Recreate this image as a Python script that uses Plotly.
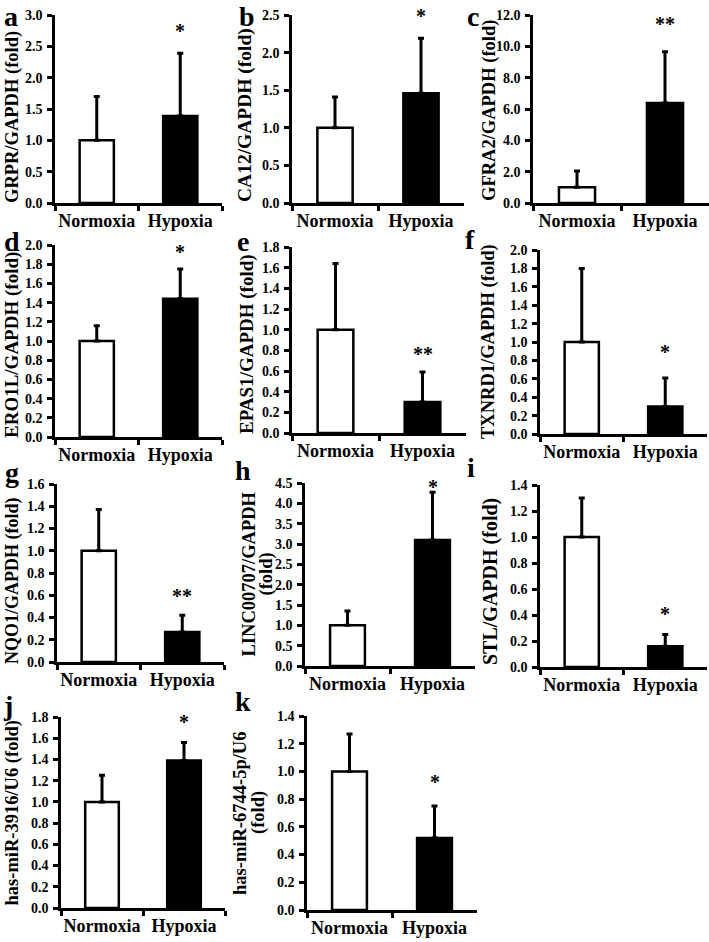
import plotly.graph_objects as go

W, H = 709, 942
FONT = "Liberation Serif"

panels = ["a", "b", "c", "d", "e", "f", "g", "h", "i", "j", "k"]
categories = ["Normoxia", "Hypoxia"]
ylabels = [
    ["GRPR/GAPDH (fold)"],
    ["CA12/GAPDH (fold)"],
    ["GFRA2/GAPDH (fold)"],
    ["ERO1L/GAPDH (fold)"],
    ["EPAS1/GAPDH (fold)"],
    ["TXNRD1/GAPDH (fold)"],
    ["NQO1/GAPDH (fold)"],
    ["LINC00707/GAPDH", "(fold)"],
    ["STL/GAPDH (fold)"],
    ["has-miR-3916/U6 (fold)"],
    ["has-miR-6744-5p/U6", "(fold)"],
]
normoxia_mean = [1.0, 1.0, 1.0, 1.0, 1.0, 1.0, 1.0, 1.0, 1.0, 1.0, 1.0]
hypoxia_mean = [1.39, 1.46, 6.38, 1.44, 0.30, 0.30, 0.27, 3.10, 0.16, 1.39, 0.52]
normoxia_err = [0.70, 0.41, 1.05, 0.16, 0.64, 0.80, 0.37, 0.35, 0.30, 0.25, 0.27]
hypoxia_err = [1.00, 0.73, 3.27, 0.31, 0.29, 0.31, 0.15, 1.17, 0.09, 0.17, 0.23]
significance = ["*", "*", "**", "*", "**", "*", "**", "*", "*", "*", "*"]
sig_y = [2.81, 2.54, 11.7, 1.97, 0.80, 0.93, 0.63, 4.5, 0.44, 1.79, 0.95]
y_max = [3.0, 2.5, 12.0, 2.0, 1.8, 2.0, 1.6, 4.5, 1.4, 1.8, 1.4]
y_dtick = [0.5, 0.5, 2.0, 0.2, 0.2, 0.2, 0.2, 0.5, 0.2, 0.2, 0.2]

# pixel boxes of each plot area: x0, x1, ytop, ybottom
boxes = [
    (55, 222, 15, 203), (292, 464, 15, 203), (533, 709, 15, 203),
    (55, 222, 245, 437), (292, 466, 247, 433), (540, 707, 250, 434),
    (57, 224, 484, 662), (305, 475, 483, 666), (540, 707, 485, 667),
    (61, 225, 717, 908), (307, 477, 716, 910),
]
# panel letter positions (pixel centers)
letter_pos = [(11, 17), (247, 17), (473, 17), (12, 241), (243, 241), (470, 240),
              (12, 472), (243, 470), (471, 467), (8, 705), (243, 701)]
# y title centre x (pixel) for each line, font size and vertical nudge
title_x = [[13], [245], [490], [12], [247], [489], [12], [248, 266], [490], [12], [240, 258]]
title_size = [18.5, 19.5, 18.5, 19, 19, 18.5, 18, 18.5, 20, 18.5, 18.5]
title_dy = [8, 6, 2, 4, 4, 0, 8, 0, 6, 0, 0]

fig = go.Figure()
annotations = []
for i, p in enumerate(panels):
    n = i + 1
    xa = "x" if n == 1 else f"x{n}"
    ya = "y" if n == 1 else f"y{n}"
    x0, x1, yt, yb = boxes[i]
    d0, d1 = 1 - yb / H, 1 - yt / H
    fig.add_trace(go.Bar(
        x=categories,
        y=[normoxia_mean[i], hypoxia_mean[i]],
        xaxis=xa, yaxis=ya,
        width=0.41,
        marker=dict(color=["white", "black"], line=dict(color="black", width=2.5)),
        error_y=dict(type="data", array=[normoxia_err[i], hypoxia_err[i]],
                     arrayminus=[0, 0], symmetric=False,
                     color="black", thickness=3, width=3),
        showlegend=False,
    ))
    xkey = "xaxis" if n == 1 else f"xaxis{n}"
    ykey = "yaxis" if n == 1 else f"yaxis{n}"
    fig.update_layout(**{
        xkey: dict(
            domain=[x0 / W, x1 / W], anchor=ya, type="category",
            range=[-0.5, 1.5], tickson="boundaries", ticks="outside",
            ticklen=5, tickwidth=2.5, tickcolor="black", tickangle=0,
            showline=True, linecolor="black", linewidth=2.5,
            showgrid=False, zeroline=False, fixedrange=True, automargin=False,
            tickfont=dict(family=FONT, size=18, color="black", weight="bold"),
            ticklabelstandoff=0,
        ),
        ykey: dict(
            domain=[d0, d1], anchor=xa,
            range=[0, y_max[i]], dtick=y_dtick[i], tick0=0, tickformat=".1f",
            ticks="outside", ticklen=5, tickwidth=2.5, tickcolor="black",
            showline=True, linecolor="black", linewidth=2.5,
            showgrid=False, zeroline=False, fixedrange=True, automargin=False,
            tickfont=dict(family=FONT, size=14, color="black", weight="bold"),
            ticklabelstandoff=2,
        ),
    })
    # significance stars (paper y computed from the data value)
    annotations.append(dict(
        x="Hypoxia", y=d0 + (d1 - d0) * sig_y[i] / y_max[i], xref=xa, yref="paper",
        text=significance[i],
        showarrow=False, xanchor="center", yanchor="middle", yshift=-4,
        font=dict(family=FONT, size=20, color="black", weight="bold"),
    ))
    # panel letter
    lx, ly = letter_pos[i]
    annotations.append(dict(
        x=lx / W, y=1 - ly / H, xref="paper", yref="paper", text=p,
        showarrow=False, xanchor="center", yanchor="middle",
        font=dict(family=FONT, size=28, color="black", weight="bold"),
    ))
    # y titles
    yc = 1 - ((yt + yb) / 2 + title_dy[i]) / H
    for line, tx in zip(ylabels[i], title_x[i]):
        annotations.append(dict(
            x=tx / W, y=yc, xref="paper", yref="paper", text=line,
            textangle=-90, showarrow=False, xanchor="center", yanchor="middle",
            font=dict(family=FONT, size=title_size[i], color="black", weight="bold"),
        ))

fig.update_layout(
    width=W, height=H,
    margin=dict(l=0, r=0, t=0, b=0, autoexpand=False),
    paper_bgcolor="white", plot_bgcolor="white",
    annotations=annotations,
)
fig.write_html("out.html", config={"displayModeBar": False},
               post_script="document.body.style.margin='0';")
